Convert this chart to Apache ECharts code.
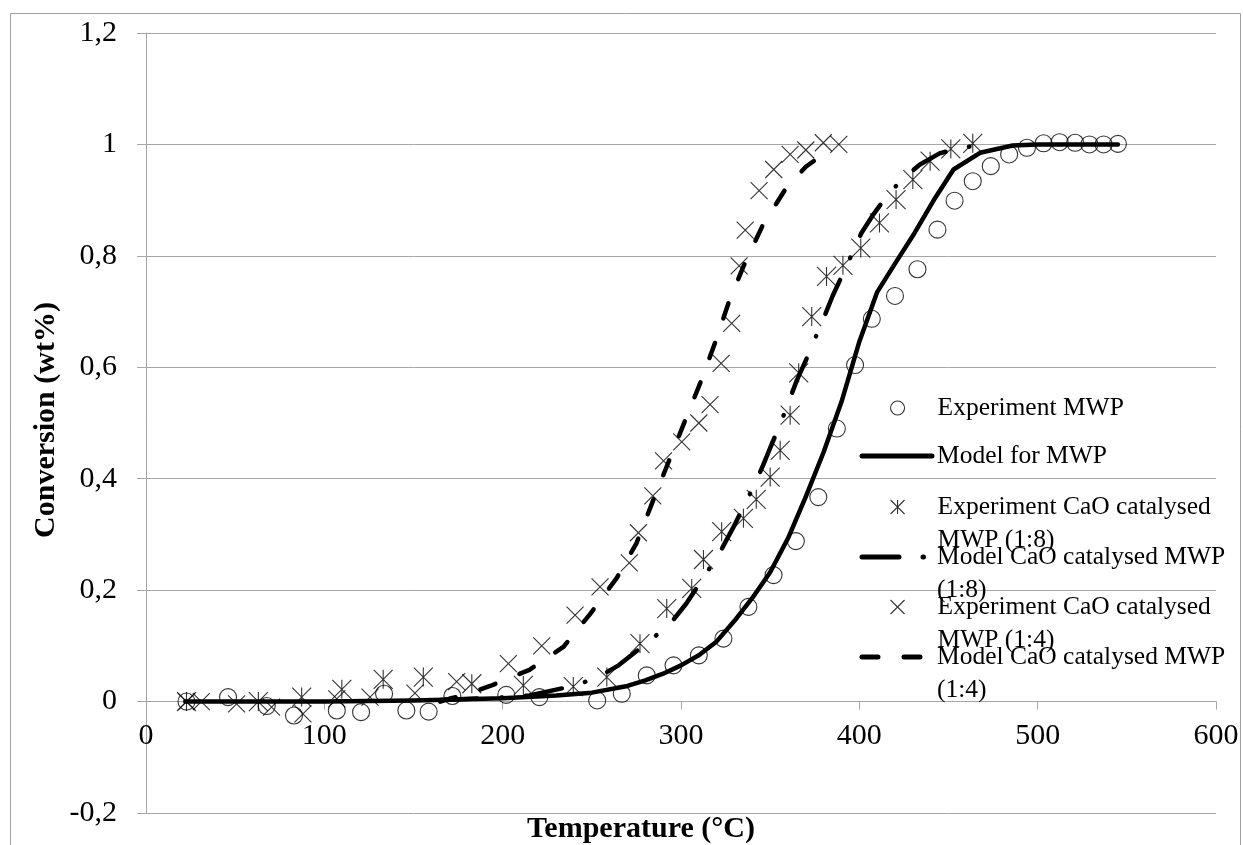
<!DOCTYPE html>
<html><head><meta charset="utf-8">
<script src="https://cdn.jsdelivr.net/npm/echarts@6/dist/echarts.min.js"></script>
<style>html,body{margin:0;padding:0;background:#fff}#c{width:1243px;height:845px}</style>
</head><body><div id="c"></div>
<script>
// ---- data (Temperature °C, Conversion) ----
const expMWP = [[22.7,0],[46,0.008],[67.7,-0.008],[83,-0.025],[107,-0.016],[120.6,-0.019],[133.5,0.014],[146,-0.016],[158.5,-0.018],[171.8,0.01],[202,0.012],[220.6,0.008],[253,0.002],[266.8,0.014],[280.8,0.047],[295.8,0.065],[310,0.083],[323.8,0.113],[337.8,0.17],[351.9,0.227],[364.4,0.288],[377,0.367],[387.4,0.49],[397.6,0.604],[407,0.687],[420,0.728],[432.6,0.776],[443.8,0.847],[453.4,0.899],[463.6,0.934],[473.7,0.961],[484,0.982],[494,0.994],[503.3,1.002],[512.3,1.004],[521,1.003],[529,1.0],[537,1.0],[545,1.001]];
const modelMWP = [[22,0],[100,0],[150,0.002],[200,0.006],[230,0.011],[250,0.016],[270,0.028],[280,0.038],[290,0.05],[300,0.065],[310,0.083],[320,0.108],[330,0.145],[340,0.186],[350,0.232],[360,0.293],[370,0.368],[380,0.448],[390,0.538],[400,0.646],[410,0.735],[420,0.786],[430,0.836],[442.5,0.904],[452.8,0.955],[467.7,0.985],[486,0.998],[500,1.0],[520,1.0],[545,1.0]];
const exp18 = [[22.7,0],[63,0],[87.3,0.008],[109.8,0.022],[133,0.04],[155.5,0.044],[182.7,0.032],[211.6,0.029],[239.6,0.027],[258.4,0.044],[277,0.104],[292,0.167],[306,0.203],[312.6,0.255],[322.8,0.305],[335,0.329],[342.2,0.363],[350,0.403],[355.6,0.451],[361.2,0.514],[366,0.59],[373.3,0.691],[381.6,0.763],[390.8,0.783],[400.8,0.814],[411.3,0.859],[420.6,0.901],[430,0.937],[439.7,0.97],[451.3,0.992],[463.6,1.002]];
const model18 = [[165,0.003],[203,0.008],[215,0.011],[241,0.029],[254,0.045],[265,0.065],[284,0.113],[294,0.14],[303,0.176],[316,0.239],[323,0.275],[329.4,0.313],[340.6,0.385],[346,0.424],[351,0.463],[355.6,0.497],[360,0.535],[365,0.577],[370.5,0.616],[380,0.688],[385,0.728],[391,0.769],[401,0.84],[408,0.875],[416,0.91],[425,0.94],[434,0.964],[445,0.984],[458,0.995],[468,0.998]];
const exp14 = [[22.7,0],[31,0],[50.8,-0.004],[70.4,-0.01],[88,-0.022],[107,0.005],[125.6,0.008],[150.8,0.015],[174.2,0.036],[203.2,0.068],[221.9,0.1],[240.6,0.155],[254.6,0.206],[271,0.249],[276.1,0.303],[284.2,0.369],[290.2,0.432],[300.4,0.466],[310,0.5],[316.3,0.533],[322.5,0.607],[328.4,0.679],[332.6,0.782],[336,0.846],[343.8,0.917],[352,0.955],[361.2,0.982],[370,0.99],[379.8,1.003],[388.5,1.0]];
const model14 = [[165,0],[170,0.005],[180,0.013],[193,0.028],[215,0.057],[234,0.098],[249,0.157],[264,0.222],[275,0.284],[284,0.358],[293,0.43],[302,0.502],[310.7,0.571],[319,0.643],[326.6,0.715],[335,0.781],[346,0.856],[359,0.922],[370,0.96],[381,0.985]];

const seriesNames = ['Experiment MWP','Model for MWP','Experiment CaO catalysed MWP (1:8)','Model CaO catalysed MWP (1:8)','Experiment CaO catalysed MWP (1:4)','Model CaO catalysed MWP (1:4)'];
const legendLines = {
  'Experiment MWP':'Experiment MWP',
  'Model for MWP':'Model for MWP',
  'Experiment CaO catalysed MWP (1:8)':'Experiment CaO catalysed\nMWP (1:8)',
  'Model CaO catalysed MWP (1:8)':'Model CaO catalysed MWP\n(1:8)',
  'Experiment CaO catalysed MWP (1:4)':'Experiment CaO catalysed\nMWP (1:4)',
  'Model CaO catalysed MWP (1:4)':'Model CaO catalysed MWP\n(1:4)'
};
const xTitle = 'Temperature (°C)';
const yTitle = 'Conversion (wt%)';

const FONT = 'Liberation Serif';
const GRID = '#a6a6a6';
const STAR = 'path://M0,0L10,10M10,0L0,10M5,0L5,10';
const CROSS = 'path://M0,0L10,10M10,0L0,10';
const LH = 33;
const legendCenters = [408, 456, 507, 557, 607, 657];
const isLine = [false, true, false, true, false, true];

const chart = echarts.init(document.getElementById('c'));

const legends = seriesNames.map((n, i) => {
  const two = legendLines[n].indexOf('\n') >= 0;
  return {
    data: [n], orient: 'vertical',
    left: isLine[i] ? 859.5 : 890,
    top: two ? legendCenters[i] - LH * 1.5 : legendCenters[i] - LH / 2,
    itemWidth: 70, itemHeight: 14, itemGap: 0, padding: 0, selectedMode: false,
    formatter: (name) => (legendLines[name].indexOf('\n') >= 0 ? '\n' : '') + legendLines[name],
    textStyle: { fontFamily: FONT, fontSize: 25.5, color: '#000', lineHeight: LH },
    lineStyle: { width: 5 },
    itemStyle: { borderWidth: 1.1 }
  };
});

const scatterStyle = { color: 'rgba(0,0,0,0)', borderColor: '#000', borderWidth: 1.1 };
const pathStyle = { color: '#000', borderColor: '#000', borderWidth: 1.1 };
const hiddenItem = { color: 'rgba(0,0,0,0)', borderColor: 'rgba(0,0,0,0)', borderWidth: 0 };
const lineBase = { color: '#000', width: 4.5, cap: 'round', join: 'round' };

chart.setOption({
  animation: false,
  backgroundColor: '#fff',
  legend: legends,
  grid: { left: 146, right: 27, top: 33, bottom: 32 },
  xAxis: {
    type: 'value', min: 0, max: 600, interval: 100,
    offset: -(780 * 0.2 / 1.4),
    axisLine: { show: true, onZero: false, lineStyle: { color: GRID, width: 1 } },
    axisTick: { show: true, length: 8, lineStyle: { color: GRID } },
    axisLabel: { fontFamily: FONT, fontSize: 30, color: '#000', margin: 20 },
    splitLine: { show: false }
  },
  yAxis: {
    type: 'value', min: -0.2, max: 1.2, interval: 0.2,
    axisLine: { show: true, onZero: false, lineStyle: { color: GRID, width: 1 } },
    axisTick: { show: true, length: 9, lineStyle: { color: GRID } },
    axisLabel: { fontFamily: FONT, fontSize: 30, color: '#000', margin: 29,
      formatter: v => String(Math.round(v * 10) / 10).replace('.', ',') },
    splitLine: { show: true, lineStyle: { color: GRID, width: 1 } }
  },
  series: [
    { name: seriesNames[0], type: 'scatter', data: expMWP, symbol: 'circle', symbolSize: 17, itemStyle: scatterStyle, z: 3 },
    { name: seriesNames[1], type: 'line', data: modelMWP, symbol: 'none', itemStyle: hiddenItem, lineStyle: Object.assign({}, lineBase, { type: 'solid' }), z: 2 },
    { name: seriesNames[2], type: 'scatter', data: exp18, symbol: STAR, symbolSize: 19, itemStyle: pathStyle, z: 3 },
    { name: seriesNames[3], type: 'line', data: model18, symbol: 'none', itemStyle: hiddenItem, lineStyle: Object.assign({}, lineBase, { type: [37, 24, 0.5, 24] }), z: 2 },
    { name: seriesNames[4], type: 'scatter', data: exp14, symbol: CROSS, symbolSize: 17, itemStyle: pathStyle, z: 3 },
    { name: seriesNames[5], type: 'line', data: model14, symbol: 'none', itemStyle: hiddenItem, lineStyle: Object.assign({}, lineBase, { type: [16, 26] }), z: 2 }
  ],
  graphic: [
    { type: 'rect', z: -10, silent: true, shape: { x: 10.5, y: 13.5, width: 1230, height: 840 }, style: { fill: 'none', stroke: '#a0a0a0', lineWidth: 1 } },
    { type: 'text', x: 641, y: 829, silent: true, style: { text: xTitle, font: 'bold 30px "Liberation Serif"', fill: '#000', align: 'center', verticalAlign: 'middle' } },
    { type: 'text', x: 46, y: 420, rotation: Math.PI / 2, silent: true, style: { text: yTitle, font: 'bold 30px "Liberation Serif"', fill: '#000', align: 'center', verticalAlign: 'middle' } }
  ]
});
</script></body></html>
